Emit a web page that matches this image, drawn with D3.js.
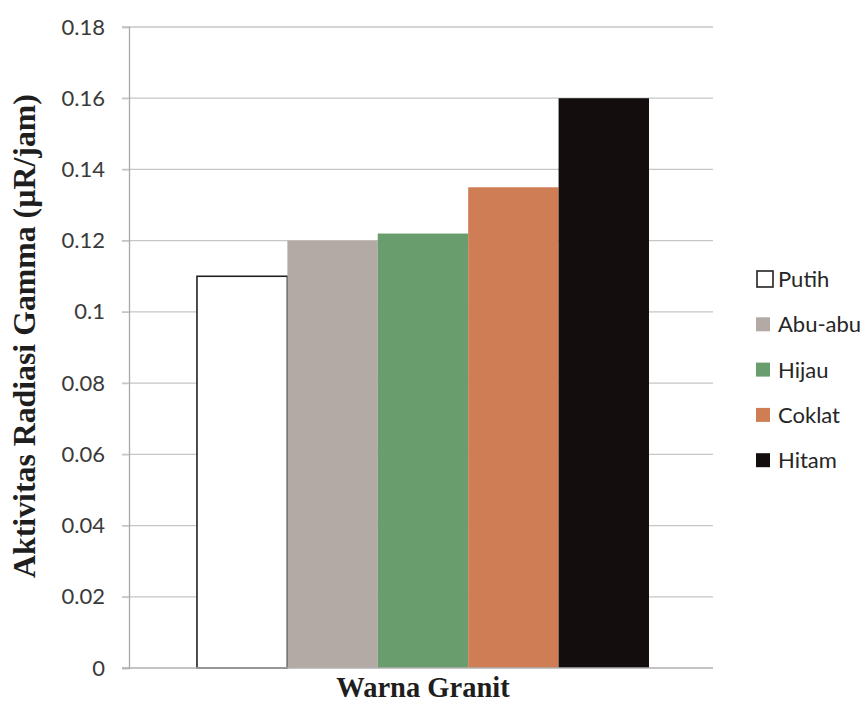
<!DOCTYPE html>
<html>
<head>
<meta charset="utf-8">
<script src="https://cdn.jsdelivr.net/npm/d3@7"></script>
<style>
  html, body { margin: 0; padding: 0; background: #fff; }
  svg { display: block; }
</style>
</head>
<body>
<svg id="chart" width="866" height="703"></svg>
<script>
const category = ["Warna Granit"];
const seriesNames = ["Putih", "Abu-abu", "Hijau", "Coklat", "Hitam"];
const seriesValues = [0.11, 0.12, 0.122, 0.135, 0.16];
const seriesColors = ["#ffffff", "#b3aaa6", "#6a9d6d", "#cf7d55", "#130e0d"];
const yTicks = [0, 0.02, 0.04, 0.06, 0.08, 0.1, 0.12, 0.14, 0.16, 0.18];
const yTitle = "Aktivitas Radiasi Gamma (µR/jam)";
const xTitle = "Warna Granit";

const svg = d3.select("#chart");
const plot = { left: 129, right: 713, top: 27, bottom: 668 };

const y = d3.scaleLinear().domain([0, 0.18]).range([plot.bottom, plot.top]);
const x0 = d3.scaleBand().domain(category).range([plot.left, plot.right])
  .paddingInner(0).paddingOuter(0.146).align(0.515);
const x1 = d3.scaleBand().domain(seriesNames).range([0, x0.bandwidth()]).padding(0);

// gridlines
const grid = svg.append("g");
grid.selectAll("line").data(yTicks.filter(d => d > 0)).join("line")
  .attr("x1", plot.left - 7).attr("x2", plot.right)
  .attr("y1", d => y(d)).attr("y2", d => y(d))
  .attr("stroke", "#c6c6c6").attr("stroke-width", 1.3);

// y axis
const yAxis = svg.append("g").attr("transform", `translate(${plot.left},0)`)
  .call(d3.axisLeft(y).tickValues(yTicks).tickSize(7).tickPadding(17)
    .tickFormat(d => d === 0 ? "0" : d3.format("")(+d.toFixed(2))));
yAxis.select(".domain").attr("stroke", "#a9a9a9").attr("stroke-width", 1.3);
yAxis.selectAll(".tick line").attr("stroke", "#c6c6c6").attr("stroke-width", 1.3);
yAxis.selectAll(".tick text")
  .attr("font-family", "Lato, 'Open Sans', sans-serif")
  .attr("font-size", 22).attr("fill", "#3a3a3a");

// bars
const bars = svg.append("g");
category.forEach(cat => {
  bars.selectAll("rect").data(seriesNames).join("rect")
    .attr("x", d => x0(cat) + x1(d))
    .attr("width", x1.bandwidth())
    .attr("y", (d, i) => y(seriesValues[i]))
    .attr("height", (d, i) => plot.bottom - y(seriesValues[i]))
    .attr("fill", (d, i) => seriesColors[i])
    .attr("stroke", (d, i) => i === 0 ? "#222" : "none")
    .attr("stroke-width", 1.6);
});

// baseline
svg.append("line")
  .attr("x1", plot.left - 7).attr("x2", plot.right)
  .attr("y1", y(0)).attr("y2", y(0))
  .attr("stroke", "#b0b0b0").attr("stroke-width", 1.5);

// axis titles
svg.append("text")
  .attr("x", 423).attr("y", 697)
  .attr("text-anchor", "middle")
  .attr("font-family", "'Liberation Serif', 'Times New Roman', serif")
  .attr("font-weight", "bold").attr("font-size", 28.5).attr("fill", "#1e1e1e")
  .text(xTitle);

svg.append("text")
  .attr("transform", `translate(35,336) rotate(-90)`)
  .attr("text-anchor", "middle")
  .attr("font-family", "'Liberation Serif', 'Times New Roman', serif")
  .attr("font-weight", "bold").attr("font-size", 31.8).attr("fill", "#1e1e1e")
  .text(yTitle);

// legend
const legend = svg.append("g");
const items = legend.selectAll("g").data(seriesNames).join("g")
  .attr("transform", (d, i) => `translate(756, ${279 + i * 45.3})`);
items.append("rect")
  .attr("x", (d, i) => i === 0 ? 1 : 0)
  .attr("y", (d, i) => i === 0 ? -8 : -7)
  .attr("width", (d, i) => i === 0 ? 16 : 14)
  .attr("height", (d, i) => i === 0 ? 16 : 14)
  .attr("fill", (d, i) => seriesColors[i])
  .attr("stroke", (d, i) => i === 0 ? "#222" : "none")
  .attr("stroke-width", 1.6);
items.append("text")
  .attr("x", 22).attr("y", 0).attr("dy", "0.36em")
  .attr("font-family", "Lato, 'Open Sans', sans-serif")
  .attr("font-size", 22).attr("fill", "#262626")
  .text(d => d);
</script>
</body>
</html>
